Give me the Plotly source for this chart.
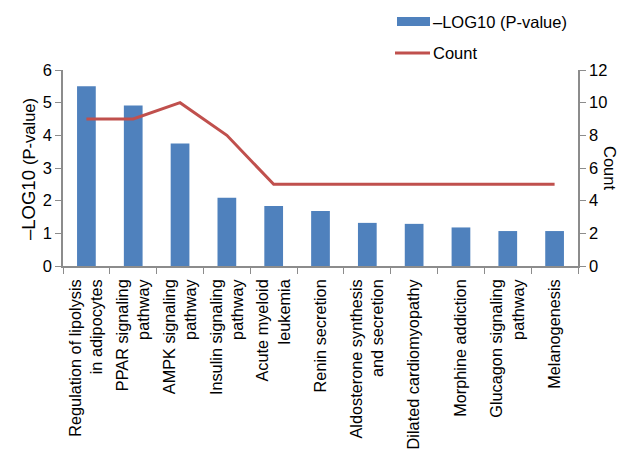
import plotly.graph_objects as go

# KEGG pathways (x-axis categories, line breaks as drawn)
pathways = [
    "Regulation of lipolysis<br>in adipocytes",
    "PPAR signaling<br>pathway",
    "AMPK signaling<br>pathway",
    "Insulin signaling<br>pathway",
    "Acute myeloid<br>leukemia",
    "Renin secretion",
    "Aldosterone synthesis<br>and secretion",
    "Dilated cardiomyopathy",
    "Morphine addiction",
    "Glucagon signaling<br>pathway",
    "Melanogenesis",
]
neg_log10_p = [5.50, 4.91, 3.75, 2.09, 1.84, 1.68, 1.32, 1.29, 1.18, 1.07, 1.07]
gene_count = [9, 9, 10, 8, 5, 5, 5, 5, 5, 5, 5]

left_ticks = [0, 1, 2, 3, 4, 5, 6]
right_ticks = [0, 2, 4, 6, 8, 10, 12]

BLUE = "#4F81BD"
RED = "#C0504D"
AXIS = "#8C8C8C"
FONT = "Liberation Sans, Arial, sans-serif"

# plot area in pixels, used to place the key and titles in paper units
L, R, T, B = 63, 50, 70, 186
W, H = 628, 452
PW, PH = W - L - R, H - T - B


def px_x(x):
    return (x - L) / PW


def px_y(y):
    return (H - B - y) / PH


fig = go.Figure()
fig.add_trace(go.Bar(
    x=pathways, y=neg_log10_p, name="–LOG10 (P-value)",
    marker=dict(color=BLUE, line=dict(width=0)), width=0.4, yaxis="y",
))
fig.add_trace(go.Scatter(
    x=pathways, y=gene_count, name="Count", mode="lines",
    line=dict(color=RED, width=3), yaxis="y2",
))

# key drawn above the plot area
shapes = [
    dict(type="rect", xref="paper", yref="paper",
         x0=px_x(397), x1=px_x(430), y0=px_y(26), y1=px_y(17),
         fillcolor=BLUE, line=dict(width=0)),
    dict(type="line", xref="paper", yref="paper",
         x0=px_x(395), x1=px_x(430), y0=px_y(53), y1=px_y(53),
         line=dict(color=RED, width=3)),
]
annotations = [
    dict(text="–LOG10 (P-value)", xref="paper", yref="paper",
         x=px_x(431), y=px_y(21.5), xanchor="left", yanchor="middle",
         showarrow=False, font=dict(size=16.5)),
    dict(text="Count", xref="paper", yref="paper",
         x=px_x(431), y=px_y(53), xanchor="left", yanchor="middle",
         showarrow=False, font=dict(size=16.5)),
    dict(text="–LOG10 <span style='font-size:16.5px'>(P-value)</span>",
         textangle=-90, xref="paper", yref="paper",
         x=px_x(28), y=px_y(169), xanchor="center", yanchor="middle",
         showarrow=False, font=dict(size=18.5)),
    dict(text="Count", textangle=90, xref="paper", yref="paper",
         x=px_x(610), y=px_y(168), xanchor="center", yanchor="middle",
         showarrow=False, font=dict(size=16.5)),
]

fig.update_layout(
    width=W, height=H,
    margin=dict(l=L, r=R, t=T, b=B, autoexpand=False),
    paper_bgcolor="white", plot_bgcolor="white",
    font=dict(family=FONT, size=16, color="#000"),
    showlegend=False,
    shapes=shapes, annotations=annotations,
    xaxis=dict(
        type="category", showline=True, linecolor=AXIS, linewidth=1.5,
        ticks="outside", tickson="boundaries", ticklen=6, tickcolor=AXIS,
        tickangle=-90, tickfont=dict(size=16.3), showgrid=False,
        ticklabelstandoff=5,
    ),
    yaxis=dict(
        range=[0, 6], tickvals=left_ticks, showline=True, linecolor=AXIS,
        linewidth=1.5, ticks="outside", ticklen=6, tickcolor=AXIS,
        showgrid=False, zeroline=False, tickfont=dict(size=16.5),
    ),
    yaxis2=dict(
        range=[0, 12], tickvals=right_ticks, overlaying="y", side="right",
        showline=True, linecolor=AXIS, linewidth=1.5, ticks="outside",
        ticklen=6, tickcolor=AXIS, showgrid=False, zeroline=False,
        tickfont=dict(size=16.5),
    ),
)

fig.write_html("out.html")
